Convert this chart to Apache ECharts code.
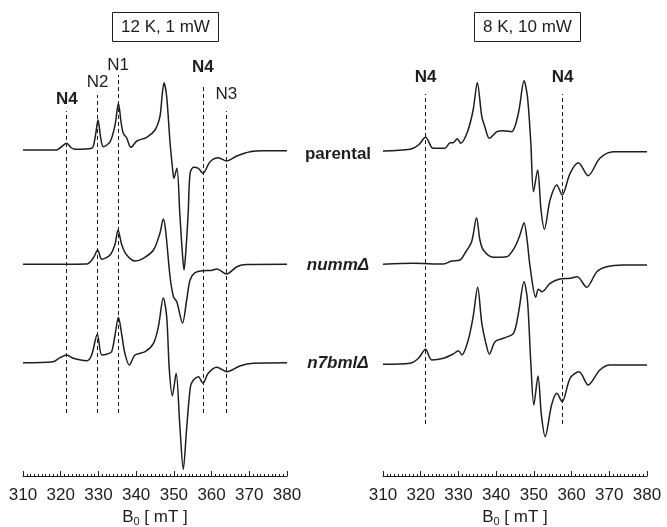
<!DOCTYPE html>
<html>
<head>
<meta charset="utf-8">
<script src="https://cdn.jsdelivr.net/npm/echarts@6/dist/echarts.min.js"></script>
<style>
  html, body { margin: 0; background: #fff; }
  #chart { width: 667px; height: 527px; }
</style>
</head>
<body>
<div id="chart"></div>
<script>
// EPR spectra, field B0 in mT, signal in a.u. (0 = baseline of each trace)
const leftParental = [
  [310, 0], [318.9, 0], [320.1, 3], [321.6, 6.7], [322.7, 2.5], [323.8, 0.7], [328.2, 1.7],
  [329.1, 12], [329.9, 30], [330.6, 12], [331.3, 3.3], [333.1, 8.3], [334.4, 25], [335.3, 46.7],
  [336.0, 28], [336.6, 16.7], [337.5, 12], [338.6, 2.7], [340.2, 9], [342.8, 12.7], [345.0, 20],
  [346.3, 33.3], [346.9, 55], [347.4, 67.3], [348.1, 53.3], [349.0, 6.7], [349.7, -20],
  [350.0, -28.3], [350.8, -18.3], [351.6, -65], [352.2, -100], [352.7, -120], [353.2, -100],
  [353.8, -63], [354.3, -23.3], [355.2, -17.3], [356.5, -18.3], [357.7, -23.3], [359.6, -11.7],
  [361.8, -7.7], [364.0, -11], [366.7, -6], [370.2, -1.7], [373.7, -0.7], [380, -0.7]
];
const leftNumm = [
  [310, 0], [326.9, 0.3], [328.6, 6], [329.8, 14.3], [330.9, 5], [333.1, 9.3], [334.4, 20],
  [335.2, 34.3], [336.2, 19.3], [337.5, 9.3], [339.7, 3.3], [341.9, 6], [344.6, 14.3],
  [346.3, 31], [347.2, 45.3], [347.8, 34.3], [349.0, -12.7], [349.9, -32.4], [350.8, -37.7],
  [352.3, -58.7], [353.4, -35.7], [354.3, -15.7], [355.6, -8.4], [357.8, -6.4], [359.9, -6.2],
  [361.4, -4.7], [364.0, -9.7], [366.7, -2.4], [369.3, -0.2], [380, 0]
];
const leftN7bml = [
  [310, 0], [318.0, 1], [319.8, 5], [321.6, 7.7], [323.3, 4.4], [326.9, 2], [328.2, 7.7],
  [329.7, 28.4], [330.9, 7.7], [332.4, 8.7], [333.5, 11], [334.4, 27.7], [335.3, 45.4],
  [336.2, 27.7], [337.0, 9.4], [338.2, -2.3], [339.7, 7.7], [342.4, 11], [344.6, 19.4],
  [345.9, 36], [347.2, 65], [348.1, 46], [348.8, -7.3], [349.6, -33], [350.6, -10.6],
  [351.6, -64], [352.5, -106.6], [353.4, -65.3], [354.4, -24], [355.2, -17.3], [356.5, -14],
  [357.7, -20.6], [359.1, -10.6], [361.4, -4.6], [364.0, -9], [367.5, -3.3], [371.1, -0.6], [380, 0]
];
const rightParental = [
  [310, 0], [317.2, 1.7], [319.4, 6], [321.3, 13.7], [323.3, 2.7], [326.4, 2.7], [327.8, 8.3],
  [328.6, 8.3], [329.7, 12.3], [330.6, 7.7], [332.4, 19.3], [333.9, 41], [335.0, 68.3],
  [336.2, 34.3], [337.0, 24.3], [338.2, 12.7], [340.2, 19.3], [341.9, 20.3], [344.1, 19.3],
  [345.9, 37.7], [347.4, 70.3], [348.3, 54.3], [349.2, 7.7], [349.9, -40.7], [351.0, -19],
  [351.9, -59], [352.8, -78.3], [354.3, -49], [356.1, -34], [357.5, -44], [359.6, -22.3],
  [361.8, -11.7], [364.4, -24.7], [367.5, -7.3], [371.1, -0.7], [380, -0.7]
];
const rightNumm = [
  [310, 0], [318.0, 1], [326.0, 0.3], [328.2, 3.3], [330.4, 4.3], [331.7, 11], [333.5, 22.6],
  [334.8, 46.6], [335.7, 24.3], [336.6, 14.3], [339.2, 7], [342.8, 7.6], [345.0, 17.6],
  [346.3, 29.3], [347.4, 41.6], [348.2, 24.3], [349.0, -2.4], [350.5, -33], [351.2, -25],
  [352.2, -27.4], [354.3, -19], [356.9, -14.7], [359.6, -14], [361.5, -12.4], [364.0, -23],
  [366.7, -7.4], [369.3, -2.4], [373.7, -0.7], [380, -0.7]
];
const rightN7bml = [
  [310, 0], [317.2, 1], [319.4, 6], [321.3, 15], [322.9, 4.3], [326.0, 6], [328.6, 10.3],
  [330.0, 13.6], [330.9, 9.3], [332.6, 24.3], [333.9, 47.6], [335.1, 77], [336.2, 41],
  [337.5, 17.6], [338.2, 10.3], [339.7, 22.6], [341.9, 26], [344.6, 31], [345.9, 51],
  [347.4, 82.6], [348.3, 64.3], [349.2, 1], [350.0, -40.7], [351.1, -11.7], [352.0, -50.7],
  [353.0, -72.4], [354.7, -40.7], [356.1, -29], [357.5, -37.4], [359.6, -14], [362.0, -7.4],
  [364.4, -20.7], [367.5, -5.7], [370.2, -0.7], [380, -0.7]
];

const traceNames = ['parental', 'numm\u0394', 'n7bml\u0394'];
const panelTitles = ['12 K, 1 mW', '8 K, 10 mW'];
const leftMarkNames = ['N4', 'N2', 'N1', 'N4', 'N3'];
const leftMarkFields = [321.6, 329.8, 335.2, 357.7, 363.9];
const rightMarkNames = ['N4', 'N4'];
const rightMarkFields = [321.3, 357.6];

// layout: vertical placement of the traces / guide lines (in plot units)
const leftOffsets = [326, 211.7, 113.3];
const rightOffsets = [325, 211.7, 111.7];
const leftLineTops = [365, 381, 401, 392, 365];
const leftLineBottom = 63;
const leftLabelGaps = [3, 4, 1, 8, 8];
const rightLineTops = [382, 382];
const rightLineBottom = 52;
const rightLabelGaps = [8, 8];

const ink = '#1e1e1e';
const narrow = '"Liberation Sans Narrow", "Liberation Sans", Arial, sans-serif';
const regular = '"Liberation Sans", Arial, sans-serif';

const chart = echarts.init(document.getElementById('chart'));

function shift(data, off) {
  return data.map(p => [p[0], p[1] + off]);
}

function guideLines(names, fields, tops, bottom, gaps) {
  return names.map((n, i) => [
    {
      coord: [fields[i], bottom],
      label: {
        show: true,
        position: 'end',
        formatter: n,
        distance: gaps[i],
        color: ink,
        fontFamily: regular,
        fontSize: 17,
        fontWeight: n === 'N4' ? 'bold' : 'normal'
      }
    },
    { coord: [fields[i], tops[i]] }
  ]);
}

function xAxis(gridIndex) {
  return {
    gridIndex,
    type: 'value',
    min: 310,
    max: 380,
    interval: 10,
    name: '{a|B}{s|0}{a| [ mT ]}',
    nameLocation: 'middle',
    nameGap: 30,
    nameTextStyle: {
      rich: {
        a: { fontSize: 17, fontFamily: regular, color: ink, lineHeight: 20 },
        s: { fontSize: 11, fontFamily: regular, color: ink, lineHeight: 20, verticalAlign: 'bottom', padding: [5, 0, 0, 0] }
      }
    },
    axisLine: { lineStyle: { color: ink, width: 1 } },
    axisTick: { inside: true, length: 5, lineStyle: { color: ink } },
    minorTick: { show: true, splitNumber: 10, length: 2, lineStyle: { color: ink } },
    axisLabel: { margin: 11, fontSize: 17, fontFamily: narrow, color: ink },
    splitLine: { show: false }
  };
}

function yAxis(gridIndex) {
  return { gridIndex, type: 'value', min: 0, max: 416, show: false };
}

function traces(list, offsets, axisIndex, marks) {
  return list.map((d, i) => ({
    type: 'line',
    name: traceNames[i],
    xAxisIndex: axisIndex,
    yAxisIndex: axisIndex,
    data: shift(d, offsets[i]),
    showSymbol: false,
    smooth: 0.3,
    silent: true,
    lineStyle: { color: ink, width: 1.5 },
    markLine: i === 0 ? {
      silent: true,
      symbol: ['none', 'none'],
      lineStyle: { type: [4, 3], color: ink, width: 1 },
      data: marks
    } : undefined
  }));
}

function titleBox(x, text) {
  return {
    type: 'group',
    left: x,
    top: 12,
    children: [
      { type: 'rect', shape: { x: 0, y: 0, width: 106, height: 29 }, style: { fill: '#fff', stroke: ink, lineWidth: 1 } },
      { type: 'text', x: 53, y: 15, style: { text, fill: ink, font: '17px ' + regular, align: 'center', verticalAlign: 'middle' } }
    ]
  };
}

function traceLabel(y, text, italic) {
  return {
    type: 'text',
    x: 338,
    y,
    style: {
      text,
      fill: ink,
      font: (italic ? 'italic ' : '') + 'bold 17px ' + regular,
      align: 'center',
      verticalAlign: 'middle'
    }
  };
}

chart.setOption({
  animation: false,
  grid: [
    { left: 23, width: 264, top: 60, height: 416, outerBoundsMode: 'none' },
    { left: 383, width: 264, top: 60, height: 416, outerBoundsMode: 'none' }
  ],
  xAxis: [xAxis(0), xAxis(1)],
  yAxis: [yAxis(0), yAxis(1)],
  series: [
    ...traces([leftParental, leftNumm, leftN7bml], leftOffsets, 0,
      guideLines(leftMarkNames, leftMarkFields, leftLineTops, leftLineBottom, leftLabelGaps)),
    ...traces([rightParental, rightNumm, rightN7bml], rightOffsets, 1,
      guideLines(rightMarkNames, rightMarkFields, rightLineTops, rightLineBottom, rightLabelGaps))
  ],
  graphic: [
    titleBox(112, panelTitles[0]),
    titleBox(474, panelTitles[1]),
    traceLabel(154, traceNames[0], false),
    traceLabel(265, traceNames[1], true),
    traceLabel(363, traceNames[2], true)
  ]
});
</script>
</body>
</html>
